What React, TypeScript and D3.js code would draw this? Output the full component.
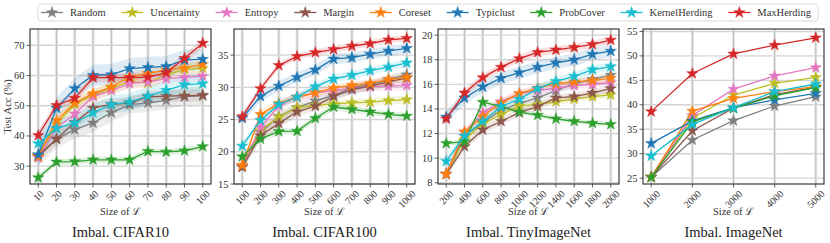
import React, { useEffect, useRef } from 'react';
import * as d3 from 'd3';

const methods = ['Random', 'Uncertainty', 'Entropy', 'Margin', 'Coreset', 'Typiclust', 'ProbCover', 'KernelHerding', 'MaxHerding'];
const colors = ['#7f7f7f', '#bcbd22', '#e377c2', '#8c564b', '#ff7f0e', '#1f77b4', '#2ca02c', '#17becf', '#d62728'];

// CIFAR10
const cifar10Sizes = [10, 20, 30, 40, 50, 60, 70, 80, 90, 100];
const cifar10Acc = [
  [33.0, 39.0, 42.1, 44.3, 47.7, 50.4, 50.9, 51.8, 53.0, 53.3],
  [33.2, 44.0, 50.5, 53.5, 55.8, 58.0, 57.6, 60.1, 62.1, 62.4],
  [32.8, 42.6, 47.3, 53.1, 55.1, 57.3, 57.9, 59.0, 59.4, 59.8],
  [33.5, 39.0, 44.5, 49.2, 50.5, 50.8, 52.9, 53.2, 53.3, 53.5],
  [33.2, 45.1, 51.0, 54.0, 56.2, 59.5, 60.7, 61.8, 62.5, 63.7],
  [33.8, 49.2, 55.7, 60.1, 60.3, 62.3, 62.7, 63.0, 65.1, 65.4],
  [26.2, 31.4, 31.5, 32.1, 32.1, 32.1, 34.9, 34.7, 35.1, 36.5],
  [37.5, 42.5, 44.3, 47.7, 50.4, 51.2, 53.2, 55.1, 57.0, 57.3],
  [40.2, 50.1, 52.5, 59.3, 59.3, 59.3, 59.5, 60.9, 65.7, 70.7],
];
const cifar10Std = [3, 2, 1.5, 2, 1.5, 3.5, 1, 3, 1.5];
const cifar10YTicks = [30, 40, 50, 60, 70];
const cifar10YLim = [24.1, 75.4];

// CIFAR100
const cifar100Sizes = [100, 200, 300, 400, 500, 600, 700, 800, 900, 1000];
const cifar100Acc = [
  [17.8, 23.0, 25.5, 26.85, 27.9, 28.75, 29.9, 30.4, 31.2, 31.95],
  [17.8, 23.3, 25.4, 26.85, 27.2, 27.45, 27.6, 27.7, 27.95, 28.1],
  [17.8, 23.8, 27.1, 28.5, 29.15, 29.5, 29.8, 30.1, 30.2, 30.3],
  [17.6, 22.5, 24.4, 26.2, 27.1, 28.6, 29.65, 30.2, 30.85, 31.45],
  [17.9, 25.8, 27.5, 28.5, 29.15, 29.9, 30.3, 30.6, 31.2, 31.55],
  [25.2, 28.6, 30.2, 31.55, 32.7, 34.4, 34.6, 35.15, 35.65, 36.05],
  [19.25, 22.0, 23.15, 23.2, 25.2, 26.95, 26.6, 26.2, 25.8, 25.55],
  [20.9, 24.9, 27.35, 28.5, 30.1, 31.3, 31.9, 32.6, 33.15, 33.8],
  [25.45, 29.8, 33.4, 34.8, 35.4, 35.9, 36.4, 36.8, 37.35, 37.6],
];
const cifar100Std = [0.7, 0.6, 0.7, 0.7, 0.6, 0.8, 0.5, 0.6, 0.5];
const cifar100YTicks = [15, 20, 25, 30, 35];
const cifar100YLim = [15, 39.05];

// TinyImageNet
const tinySizes = [200, 400, 600, 800, 1000, 1200, 1400, 1600, 1800, 2000];
const tinyAcc = [
  [8.7, 11.8, 12.9, 13.9, 14.45, 14.9, 15.5, 16.05, 16.4, 16.75],
  [8.7, 11.5, 12.8, 13.55, 14.25, 14.35, 14.6, 14.8, 15.0, 15.15],
  [8.7, 12.1, 13.7, 14.6, 15.25, 15.5, 15.7, 15.9, 16.0, 16.15],
  [8.7, 10.95, 12.3, 13.0, 13.7, 14.2, 14.9, 15.0, 15.3, 15.65],
  [8.7, 12.15, 13.4, 14.5, 15.25, 15.7, 16.05, 16.2, 16.3, 16.5],
  [13.35, 14.9, 15.8, 16.5, 16.95, 17.4, 17.75, 18.0, 18.45, 18.7],
  [11.2, 11.35, 14.55, 14.2, 13.75, 13.5, 13.2, 13.0, 12.85, 12.75],
  [9.75, 11.8, 13.0, 14.2, 14.8, 15.65, 16.25, 16.65, 17.2, 17.45],
  [13.2, 15.3, 16.55, 17.4, 18.1, 18.6, 18.8, 19.0, 19.25, 19.6],
];
const tinyStd = [0.3, 0.25, 0.3, 0.3, 0.3, 0.5, 0.2, 0.35, 0.3];
const tinyYTicks = [8, 10, 12, 14, 16, 18, 20];
const tinyYLim = [7.9, 20.5];

// ImageNet
const imagenetSizes = [1000, 2000, 3000, 4000, 5000];
const imagenetAcc = [
  [25.2, 32.8, 36.75, 39.75, 41.65],
  [25.2, 37.25, 42.0, 44.4, 45.6],
  [25.2, 37.8, 43.2, 45.9, 47.6],
  [25.2, 34.7, 39.3, 42.1, 43.6],
  [25.2, 38.7, 41.3, 42.7, 43.7],
  [32.1, 36.7, 39.4, 41.0, 42.35],
  [25.2, 36.5, 39.3, 41.8, 43.5],
  [29.55, 36.0, 39.4, 42.7, 44.25],
  [38.6, 46.4, 50.4, 52.2, 53.7],
];
const imagenetStd = [0, 0, 0, 0, 0, 0, 0, 0, 0];
const imagenetYTicks = [25, 30, 35, 40, 45, 50, 55];
const imagenetYLim = [23.8, 55.5];

const panels = [
  { title: 'Imbal. CIFAR10', sizes: cifar10Sizes, acc: cifar10Acc, std: cifar10Std, yTicks: cifar10YTicks, yLim: cifar10YLim, left: 30 },
  { title: 'Imbal. CIFAR100', sizes: cifar100Sizes, acc: cifar100Acc, std: cifar100Std, yTicks: cifar100YTicks, yLim: cifar100YLim, left: 234 },
  { title: 'Imbal. TinyImageNet', sizes: tinySizes, acc: tinyAcc, std: tinyStd, yTicks: tinyYTicks, yLim: tinyYLim, left: 438 },
  { title: 'Imbal. ImageNet', sizes: imagenetSizes, acc: imagenetAcc, std: imagenetStd, yTicks: imagenetYTicks, yLim: imagenetYLim, left: 643 },
];

const width = 830;
const height = 243;
const font = '"Liberation Serif", "DejaVu Serif", serif';

const App = () => {
  const svgRef = useRef<SVGSVGElement>(null);

  useEffect(() => {
    const svg = d3.select(svgRef.current);
    svg.selectAll('*').remove();
    svg.append('rect').attr('width', width).attr('height', height).attr('fill', 'white');

    const top = 29;
    const bottom = 184;
    const pw = 181;
    const star = d3.symbol().type(d3.symbolStar).size(40);

    panels.forEach((p, pi) => {
      const g = svg.append('g');
      const x0 = d3.min(p.sizes)!;
      const x1 = d3.max(p.sizes)!;
      const pad = (x1 - x0) * 0.05;
      const xScale = d3.scaleLinear().domain([x0 - pad, x1 + pad]).range([p.left, p.left + pw]);
      const yScale = d3.scaleLinear().domain(p.yLim).range([bottom, top]);

      // grid
      p.yTicks.forEach(t => {
        g.append('line')
          .attr('x1', p.left).attr('x2', p.left + pw)
          .attr('y1', yScale(t)).attr('y2', yScale(t))
          .attr('stroke', '#d4d4d4').attr('stroke-width', 1.4);
      });
      p.sizes.forEach(t => {
        g.append('line')
          .attr('x1', xScale(t)).attr('x2', xScale(t))
          .attr('y1', top).attr('y2', bottom)
          .attr('stroke', '#e6e6e6').attr('stroke-width', 3);
        g.append('line')
          .attr('x1', xScale(t)).attr('x2', xScale(t))
          .attr('y1', top).attr('y2', bottom)
          .attr('stroke', '#b4b4b4').attr('stroke-width', 0.8);
      });

      const clip = `clip-${pi}`;
      svg.append('clipPath').attr('id', clip)
        .append('rect').attr('x', p.left).attr('y', top).attr('width', pw).attr('height', bottom - top);

      // bands
      const area = d3.area<[number, number, number]>()
        .x(d => xScale(d[0]))
        .y0(d => yScale(d[1] - d[2]))
        .y1(d => yScale(d[1] + d[2]));
      p.acc.forEach((vals, i) => {
        if (!p.std[i]) return;
        const pts = vals.map((v, j) => [p.sizes[j], v, p.std[i]] as [number, number, number]);
        g.append('path')
          .attr('d', area(pts))
          .attr('fill', colors[i])
          .attr('opacity', 0.15)
          .attr('clip-path', `url(#${clip})`);
      });

      // lines and markers
      const line = d3.line<number>()
        .x((d, j) => xScale(p.sizes[j]))
        .y(d => yScale(d));
      p.acc.forEach((vals, i) => {
        g.append('path')
          .attr('d', line(vals))
          .attr('fill', 'none')
          .attr('stroke', colors[i])
          .attr('stroke-width', 1.3);
        vals.forEach((v, j) => {
          g.append('path')
            .attr('d', star())
            .attr('transform', `translate(${xScale(p.sizes[j])},${yScale(v)})`)
            .attr('fill', colors[i])
            .attr('stroke', colors[i])
            .attr('stroke-width', 0.5);
        });
      });

      // frame
      g.append('rect')
        .attr('x', p.left).attr('y', top).attr('width', pw).attr('height', bottom - top)
        .attr('fill', 'none').attr('stroke', '#3a3a3a').attr('stroke-width', 1.2);

      // y ticks
      p.yTicks.forEach(t => {
        g.append('line')
          .attr('x1', p.left - 3.5).attr('x2', p.left)
          .attr('y1', yScale(t)).attr('y2', yScale(t))
          .attr('stroke', '#3a3a3a').attr('stroke-width', 0.8);
        g.append('text')
          .attr('x', p.left - 5.5).attr('y', yScale(t))
          .attr('text-anchor', 'end').attr('dominant-baseline', 'central')
          .attr('font-family', font).attr('font-size', 10.5).attr('fill', '#333')
          .text(t);
      });

      // x ticks, rotated labels
      p.sizes.forEach(t => {
        g.append('line')
          .attr('x1', xScale(t)).attr('x2', xScale(t))
          .attr('y1', bottom).attr('y2', bottom + 3.5)
          .attr('stroke', '#3a3a3a').attr('stroke-width', 0.8);
        const txt = g.append('text')
          .attr('text-anchor', 'middle').attr('dominant-baseline', 'central')
          .attr('font-family', font).attr('font-size', 10).attr('fill', '#333')
          .text(t);
        const w = (txt.node() as SVGTextElement).getComputedTextLength();
        const h = (w + 7) * Math.SQRT1_2;
        txt.attr('transform', `translate(${xScale(t)},${bottom + 5.5 + h / 2}) rotate(-45)`);
      });

      g.append('text')
        .attr('x', p.left + pw / 2).attr('y', 215)
        .attr('text-anchor', 'middle')
        .attr('font-family', font).attr('font-size', 10.5).attr('fill', '#333')
        .text('Size of ℒ');

      g.append('text')
        .attr('x', p.left + pw / 2).attr('y', 237)
        .attr('text-anchor', 'middle')
        .attr('font-family', font).attr('font-size', 14.5).attr('fill', '#222')
        .text(p.title);

      if (pi === 0) {
        g.append('text')
          .attr('transform', `translate(11,${(top + bottom) / 2}) rotate(-90)`)
          .attr('text-anchor', 'middle')
          .attr('font-family', font).attr('font-size', 10.5).attr('fill', '#333')
          .text('Test Acc (%)');
      }
    });

    // legend
    const lx0 = 38;
    const lx1 = 818;
    const leg = svg.append('g');
    leg.append('rect')
      .attr('x', lx0).attr('y', 4).attr('width', lx1 - lx0).attr('height', 17)
      .attr('rx', 3).attr('fill', 'white').attr('stroke', '#d0d0d0').attr('stroke-width', 0.8);
    const items = methods.map((m, i) => {
      const it = leg.append('g');
      it.append('line').attr('x1', 0).attr('x2', 22).attr('y1', 0).attr('y2', 0)
        .attr('stroke', colors[i]).attr('stroke-width', 1.3);
      it.append('path').attr('d', star()).attr('transform', 'translate(11,0)')
        .attr('fill', colors[i]).attr('stroke', colors[i]).attr('stroke-width', 0.5);
      const t = it.append('text').attr('x', 29).attr('y', 0)
        .attr('dominant-baseline', 'central')
        .attr('font-family', font).attr('font-size', 10.5).attr('fill', '#333')
        .text(m);
      const w = 29 + (t.node() as SVGTextElement).getComputedTextLength();
      return { it, w };
    });
    const total = d3.sum(items, d => d.w);
    const gap = (lx1 - lx0 - 6 - 4 - total) / (items.length - 1);
    let cx = lx0 + 3;
    items.forEach(d => {
      d.it.attr('transform', `translate(${cx},12.5)`);
      cx += d.w + gap;
    });
  }, []);

  return (
    <svg
      ref={svgRef}
      width={width}
      height={height}
      style={{ position: 'absolute', left: 0, top: 0 }}
    ></svg>
  );
};

export default App;
